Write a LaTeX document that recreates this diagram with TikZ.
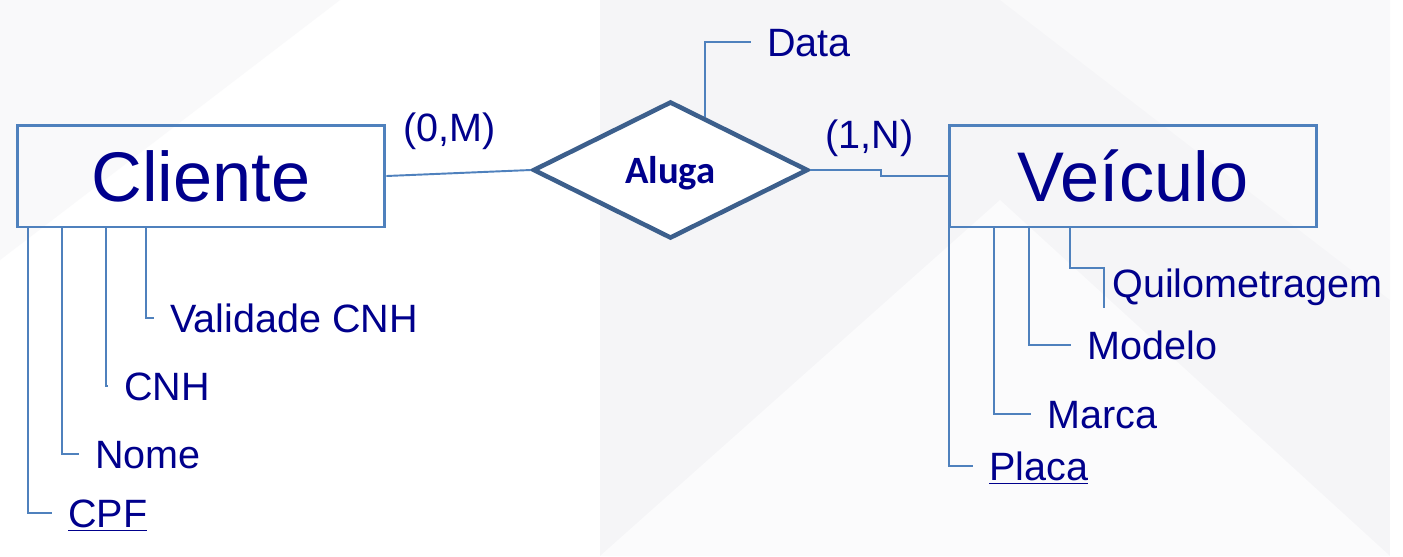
\documentclass[tikz,border=0pt]{standalone}
\usepackage{fontspec}
\setmainfont{Liberation Sans}
\newfontfamily\relfont{Carlito}
\usepackage{tikz}
\usetikzlibrary{shapes.geometric, calc, positioning}
\definecolor{erblue}{RGB}{79,129,189}
\definecolor{erdark}{RGB}{60,95,140}
\definecolor{ernavy}{RGB}{0,0,140}
\definecolor{bglight}{RGB}{249,249,250}
\definecolor{bgmid}{RGB}{245,245,247}
\tikzset{
  entity/.style={rectangle, draw=erblue, line width=1.7pt,
    minimum width=7.36cm, minimum height=2.04cm, inner sep=0pt, text depth=0pt,
    text=ernavy, font=\fontsize{40}{48}\selectfont},
  relation/.style={diamond, draw=erdark, fill=white, line width=2.6pt,
    minimum width=5.5cm, minimum height=2.74cm, inner sep=0pt, text depth=0pt,
    text=ernavy, font=\relfont\bfseries\fontsize{22}{26}\selectfont},
  attr/.style={anchor=base west, inner xsep=0.32cm, inner ysep=0pt, text depth=0pt,
    text=ernavy, font=\fontsize{22.5}{27}\selectfont},
  card/.style={anchor=base west, inner sep=0pt,
    text=ernavy, font=\fontsize{22.5}{27}\selectfont},
  link/.style={draw=erblue, line width=1.1pt}
}

\begin{document}
\begin{tikzpicture}[x=0.02cm, y=-0.02cm]
  % Background
  \useasboundingbox (0,0) rectangle (1403,556);
  \fill[white] (0,0) rectangle (1403,556);
  \fill[bgmid] (600,0) rectangle (1390,556);
  \fill[bglight] (0,0) -- (340,0) -- (0,260) -- cycle;
  \fill[white!60!bgmid] (600,556) -- (1000,200) -- (1390,556) -- cycle;
  \fill[bglight] (1390,0) -- (1000,0) -- (1390,300) -- cycle;

  % Entities and relationship
  \node[entity] (cliente) at (201,176) {Cliente};
  \node[entity] (veiculo) at (1133,176) {Veículo};
  \node[relation] (aluga) at (670.5,170) {Aluga};

  \draw[link] (cliente.east) -- (aluga.west);
  \draw[link] (aluga.east) -- ++(71,0) |- (veiculo.west);

  % Cardinalities
  \node[card] (cardm) at (403,141) {(0,M)};
  \node[card] (cardn) at (825,148) {(1,N)};

  % Relationship attribute
  \node[attr] (data) at (751,56) {Data};
  \draw[link] ($(aluga.north)!.25!(aluga.east)$) |- (data.west);

  % Cliente attributes
  \node[attr] (validade) at (154,332) {Validade CNH};
  \node[attr] (cnh) at (108,400) {CNH};
  \node[attr] (nome) at (79,468) {Nome};
  \node[attr] (cpf) at (52,527) {\underline{CPF}};
  \draw[link] ($(cliente.south west)+(12,0)$) |- (cpf.west);
  \draw[link] ($(cliente.south west)+(46,0)$) |- (nome.west);
  \draw[link] ($(cliente.south west)+(90,0)$) |- (cnh.west);
  \draw[link] ($(cliente.south west)+(130,0)$) |- (validade.west);

  % Veiculo attributes
  \node[attr] (quilo) at (1096,297) {Quilometragem};
  \node[attr] (modelo) at (1071,359) {Modelo};
  \node[attr] (marca) at (1031,428) {Marca};
  \node[attr] (placa) at (973,480) {\underline{Placa}};
  \draw[link] ($(veiculo.south west)+(1,0)$) |- (placa.west);
  \draw[link] ($(veiculo.south west)+(46,0)$) |- (marca.west);
  \draw[link] ($(veiculo.south west)+(81,0)$) |- (modelo.west);
  \draw[link] ($(veiculo.south west)+(122,0)$) |- ([xshift=0.16cm]quilo.north west) -- ++(0,40);
\end{tikzpicture}
\end{document}
